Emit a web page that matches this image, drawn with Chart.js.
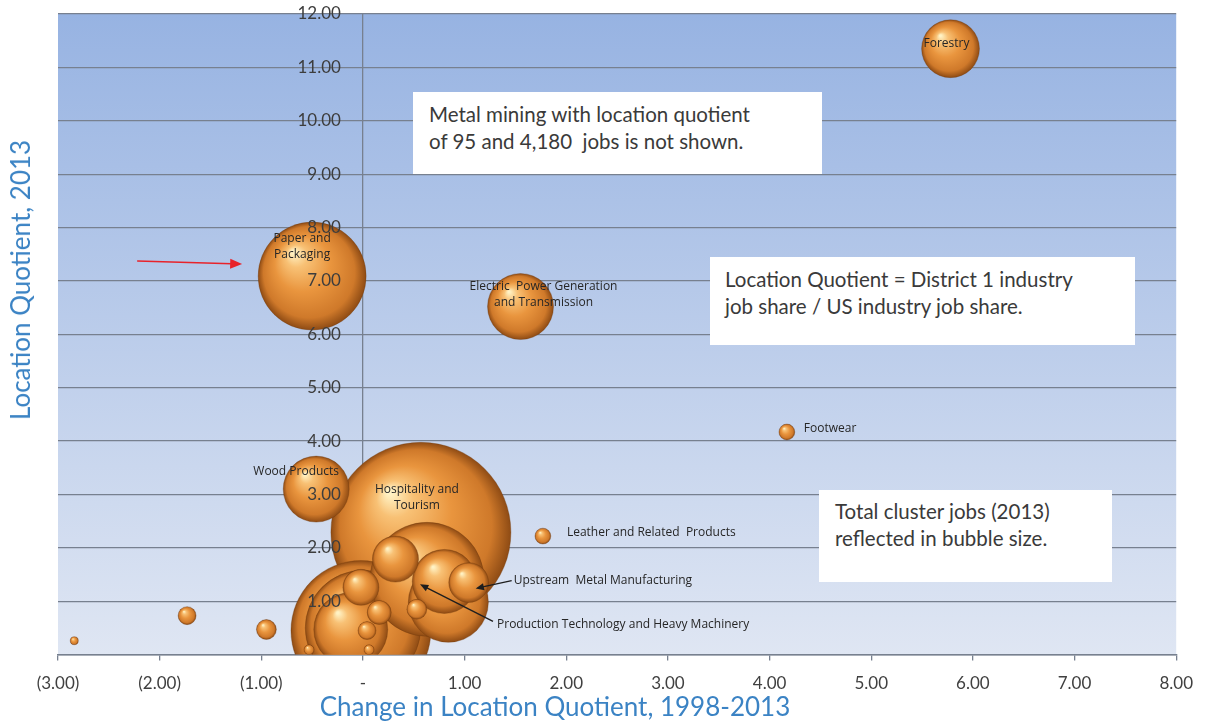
<!DOCTYPE html>
<html>
<head>
<meta charset="utf-8">
<script src="https://cdn.jsdelivr.net/npm/chart.js@4.4.1/dist/chart.umd.min.js"></script>
<style>
  html, body { margin: 0; padding: 0; background: #fff; }
  #wrap { position: relative; width: 1206px; height: 723px; overflow: hidden; }
  #chart { position: absolute; left: 0; top: 0; }
  .note {
    position: absolute; background: #fff; box-sizing: border-box;
    font-family: Lato, "Open Sans", sans-serif; font-size: 20.5px; line-height: 27px;
    color: #3a3a3a; white-space: nowrap;
  }
  .axis-title {
    position: absolute; color: #3b83c4; white-space: nowrap;
    font-family: Lato, "Open Sans", sans-serif; font-size: 26px; line-height: 30px;
  }
</style>
</head>
<body>
<div id="wrap">
  <canvas id="chart" width="1206" height="723"></canvas>
  <div class="note" style="left:413px;top:92px;width:409px;height:82px;padding:9px 0 0 16px;">Metal mining with location quotient<br>of 95 and 4,180&nbsp; jobs is not shown.</div>
  <div class="note" style="left:710px;top:257px;width:425px;height:88px;padding:9px 0 0 15px;">Location Quotient = District 1 industry<br>job share / US industry job share.</div>
  <div class="note" style="left:819px;top:490px;width:293px;height:92px;padding:8px 0 0 16px;">Total cluster jobs (2013)<br>reflected in bubble size.</div>
  <div class="axis-title" style="left:555px;top:691px;transform:translateX(-50%);">Change in Location Quotient, 1998-2013</div>
  <div class="axis-title" style="left:20px;top:280px;transform:translate(-50%,-50%) rotate(-90deg);">Location Quotient, 2013</div>
</div>
<script>
// clusters (unnamed ones are not labelled in the source chart)
const clusterNames = [
  "Forestry", "Paper and Packaging", "Electric Power Generation and Transmission",
  "Footwear", "Wood Products", "Hospitality and Tourism", "Leather and Related Products",
  "Upstream Metal Manufacturing", "Production Technology and Heavy Machinery",
  "", "", "", "", "", "", "", "", "", "", "", "", "", "", ""
];
const lqChange = [5.78, -0.50, 1.55, 4.17, -0.46, 0.57, 1.77, 1.04, 0.63,
  0.32, 0.80, -0.02, 0.00, -0.12, -0.02, 0.16, 0.04, 0.53, 0.84, -0.95, -1.73, -2.84, -0.53, 0.06];
const lq2013 = [11.35, 7.09, 6.52, 4.17, 3.10, 2.29, 2.22, 1.35, 1.41,
  1.79, 1.37, 0.45, 0.50, 0.47, 1.26, 0.79, 0.45, 0.85, 0.98, 0.47, 0.73, 0.26, 0.09, 0.09];
const jobs2013 = [9300, 32400, 12100, 700, 12100, 90000, 700, 4400, 36100,
  5900, 11400, 54400, 37000, 15200, 3600, 1600, 900, 1100, 17800, 1100, 900, 180, 280, 280];

const gridColor = "#77808f";
const tickFont = { family: "Lato, 'Open Sans', sans-serif", size: 17 };

// label text / placement next to each bubble (pixel offsets from bubble centre)
const labelLayout = {
  "Forestry": { lines: ["Forestry"], dx: -4, dy: -5, align: "center" },
  "Paper and Packaging": { lines: ["Paper and", "Packaging"], dx: -10, dy: -38, align: "center" },
  "Electric Power Generation and Transmission": { lines: ["Electric  Power Generation", "and Transmission"], dx: 23, dy: -20, align: "center" },
  "Footwear": { lines: ["Footwear"], dx: 17, dy: -3, align: "left" },
  "Wood Products": { lines: ["Wood Products"], dx: -20, dy: -18, align: "center" },
  "Hospitality and Tourism": { lines: ["Hospitality and", "Tourism"], dx: -4, dy: -43, align: "center" },
  "Leather and Related Products": { lines: ["Leather and Related  Products"], dx: 24, dy: -4, align: "left" },
  "Upstream Metal Manufacturing": { lines: ["Upstream  Metal Manufacturing"], dx: 45, dy: -2, align: "left", arrow: [43, -2, 7, 6] },
  "Production Technology and Heavy Machinery": { lines: ["Production Technology and Heavy Machinery"], dx: 70, dy: 45, align: "left", arrow: [66, 42, -7, 5] }
};

const sizeFactor = 0.3; // bubble radius in px per sqrt(job)

// larger bubbles first so the small ones sit on top
const order = jobs2013.map((_, i) => i).sort((a, b) => jobs2013[b] - jobs2013[a]);
const bubbles = order.map(i => ({
  x: lqChange[i], y: lq2013[i], r: sizeFactor * Math.sqrt(jobs2013[i]), name: clusterNames[i]
}));

function bubbleFill(context) {
  const chart = context.chart;
  const p = context.parsed;
  if (!p || !chart.chartArea) return "#e08a38";
  const cx = chart.scales.x.getPixelForValue(p.x);
  const cy = chart.scales.y.getPixelForValue(p.y);
  const r = context.raw.r;
  const g = chart.ctx.createRadialGradient(cx - r * 0.35, cy - r * 0.45, r * 0.03, cx, cy, r);
  g.addColorStop(0, "#fff2c4");
  g.addColorStop(0.18, "#f8c175");
  g.addColorStop(0.5, "#e9953e");
  g.addColorStop(0.84, "#cf792a");
  g.addColorStop(1, "#8e4b14");
  return g;
}

function arrow(ctx, x1, y1, x2, y2, color, width, head) {
  const a = Math.atan2(y2 - y1, x2 - x1);
  ctx.save();
  ctx.strokeStyle = color; ctx.fillStyle = color; ctx.lineWidth = width;
  ctx.beginPath(); ctx.moveTo(x1, y1);
  ctx.lineTo(x2 - Math.cos(a) * head * 0.8, y2 - Math.sin(a) * head * 0.8); ctx.stroke();
  ctx.beginPath(); ctx.moveTo(x2, y2);
  ctx.lineTo(x2 - head * Math.cos(a - 0.4), y2 - head * Math.sin(a - 0.4));
  ctx.lineTo(x2 - head * Math.cos(a + 0.4), y2 - head * Math.sin(a + 0.4));
  ctx.closePath(); ctx.fill();
  ctx.restore();
}

const plotBackground = {
  id: "plotBackground",
  beforeDraw(chart) {
    const { ctx, chartArea: a } = chart;
    const g = ctx.createLinearGradient(0, a.top, 0, a.bottom);
    g.addColorStop(0, "#97b3e2");
    g.addColorStop(1, "#dfe6f3");
    ctx.save();
    ctx.fillStyle = g;
    ctx.fillRect(a.left, a.top, a.right - a.left, a.bottom - a.top);
    ctx.restore();
  }
};

// y tick labels sit beside the x = 0 line and on top of the bubbles
const yAxisLabels = {
  id: "yAxisLabels",
  afterDatasetsDraw(chart) {
    const ctx = chart.ctx;
    const ys = chart.scales.y;
    const x0 = chart.scales.x.getPixelForValue(0);
    ctx.save();
    ctx.font = "17px Lato, 'Open Sans', sans-serif";
    ctx.fillStyle = "#3d3d3d";
    ctx.textAlign = "right";
    ctx.textBaseline = "middle";
    ys.ticks.forEach(t => {
      if (t.value === 0) return;
      ctx.fillText(t.value.toFixed(2), x0 - 22, ys.getPixelForValue(t.value));
    });
    ctx.restore();
  }
};

const bubbleLabels = {
  id: "bubbleLabels",
  afterDatasetsDraw(chart) {
    const ctx = chart.ctx;
    const xs = chart.scales.x, ys = chart.scales.y;
    ctx.save();
    ctx.font = "12px 'Open Sans', sans-serif";
    ctx.fillStyle = "#262626";
    ctx.textBaseline = "middle";
    clusterNames.forEach((name, i) => {
      const lay = labelLayout[name];
      if (!lay) return;
      const cx = xs.getPixelForValue(lqChange[i]);
      const cy = ys.getPixelForValue(lq2013[i]);
      ctx.textAlign = lay.align;
      lay.lines.forEach((t, k) => ctx.fillText(t, cx + lay.dx, cy + lay.dy + k * 16));
      if (lay.arrow) {
        const [a, b, c, d] = lay.arrow;
        arrow(ctx, cx + a, cy + b, cx + c, cy + d, "#1e1e1e", 1.3, 9);
      }
      if (name === "Paper and Packaging") {
        arrow(ctx, cx - 175, cy - 15, cx - 70, cy - 12, "#e8222a", 1.5, 13);
      }
    });
    ctx.restore();
  }
};

new Chart(document.getElementById("chart"), {
  type: "bubble",
  data: {
    datasets: [{
      data: bubbles,
      backgroundColor: bubbleFill,
      borderColor: "rgba(110,55,10,0.55)",
      borderWidth: 0.6,
      clip: 0,
      xAxisID: "x",
      yAxisID: "y"
    }]
  },
  options: {
    responsive: false,
    animation: false,
    devicePixelRatio: 1,
    layout: { autoPadding: false, padding: { left: 58, right: 28, top: 14, bottom: 16 } },
    plugins: { legend: { display: false }, tooltip: { enabled: false } },
    events: [],
    scales: {
      x: {
        type: "linear", min: -3, max: 8,
        ticks: {
          stepSize: 1, padding: 13, color: "#404040", font: tickFont,
          callback: v => v === 0 ? "-" : v < 0 ? "(" + Math.abs(v).toFixed(2) + ")" : v.toFixed(2)
        },
        grid: {
          color: c => (c.tick && c.tick.value === 0) ? gridColor : "rgba(0,0,0,0)",
          tickColor: gridColor, tickLength: 6, lineWidth: 1.3
        },
        border: { color: gridColor, width: 1.5 }
      },
      y: {
        type: "linear", min: 0, max: 12, display: true,
        ticks: { display: false, stepSize: 1 },
        grid: { color: gridColor, drawTicks: false, lineWidth: 1.3 },
        border: { display: false }
      }
    }
  },
  plugins: [plotBackground, yAxisLabels, bubbleLabels]
});
</script>
</body>
</html>
